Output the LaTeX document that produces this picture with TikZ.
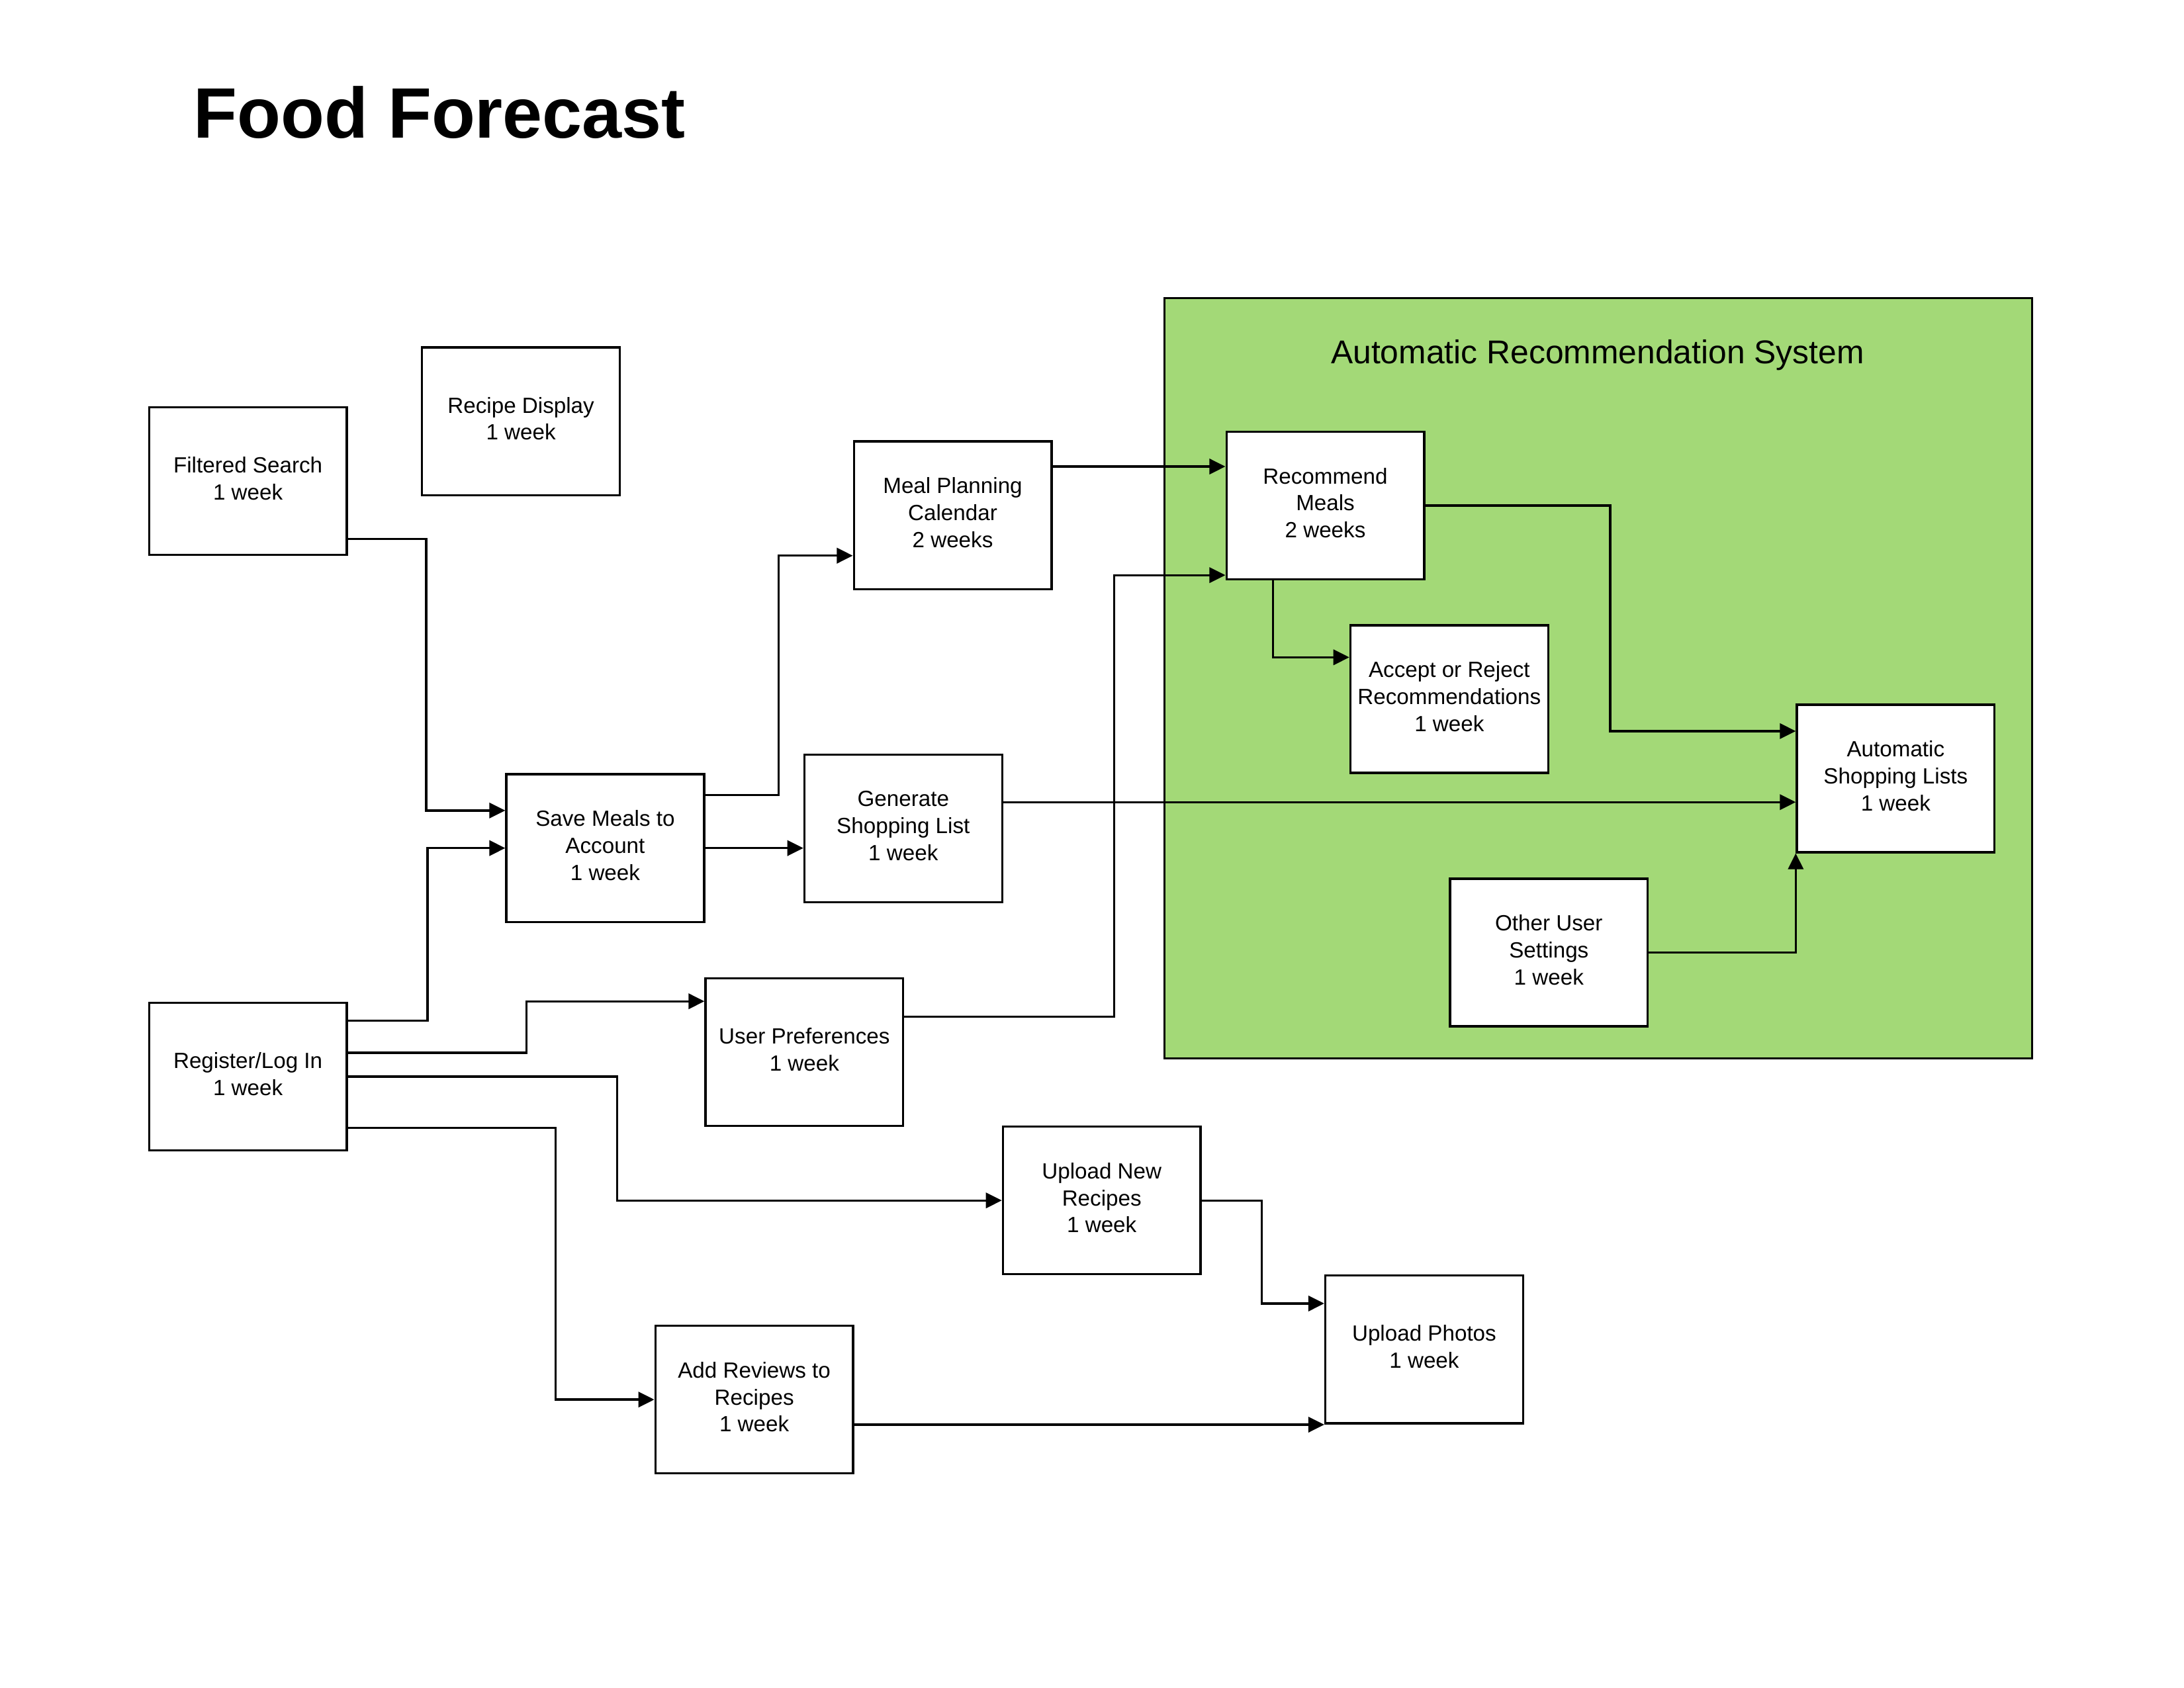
\documentclass[tikz,border=0pt]{standalone}
\usepackage{fontspec}
\setmainfont{Liberation Sans}
\usetikzlibrary{arrows.meta}
\definecolor{grn}{RGB}{163,217,119}
\begin{document}
\begin{tikzpicture}[x=0.017819cm,y=-0.017819cm,
  box/.style={draw=black,fill=white,line width=0.8pt,minimum width=2.53cm,minimum height=1.889cm,align=center,inner sep=1pt,text depth=2pt,font=\fontsize{8}{9.8}\selectfont},
  arr/.style={line width=0.8pt,-{Triangle[length=5.8pt,width=5.6pt]}}]
\useasboundingbox[fill=white] (0,0) rectangle (1568,1212);
\node[anchor=base west,font=\fontsize{26}{30}\selectfont\bfseries] (title) at (132,99) {Food Forecast};
\draw[line width=0.8pt,fill=grn] (836,214) rectangle (1459,760);
\node[font=\fontsize{12}{14}\selectfont,anchor=base] (gtitle) at (1147,261) {Automatic Recommendation System};

\node[box] (FS) at (178,345.5) {Filtered Search\\1 week};
\node[box] (RD) at (374,302.5) {Recipe Display\\1 week};
\node[box] (MP) at (684,370) {Meal Planning\\Calendar\\2 weeks};
\node[box] (SM) at (434.5,609) {Save Meals to\\Account\\1 week};
\node[box] (GS) at (648.5,595) {Generate\\Shopping List\\1 week};
\node[box] (RL) at (178,773) {Register/Log In\\1 week};
\node[box] (UP) at (577.5,755.5) {User Preferences\\1 week};
\node[box] (UN) at (791,862) {Upload New\\Recipes\\1 week};
\node[box] (UPh) at (1022.5,969) {Upload Photos\\1 week};
\node[box] (AR) at (541.5,1005) {Add Reviews to\\Recipes\\1 week};
\node[box] (RM) at (951.5,363) {Recommend\\Meals\\2 weeks};
\node[box] (AC) at (1040.5,502) {Accept or Reject\\Recommendations\\1 week};
\node[box] (AS) at (1361,559) {Automatic\\Shopping Lists\\1 week};
\node[box] (OU) at (1112,684) {Other User\\Settings\\1 week};

\draw[arr] (FS.east |- 0,387) -- (306,387) |- (SM.west |- 0,582);
\draw[arr] (RL.east |- 0,733) -- (307,733) |- (SM.west);
\draw[arr] (SM.east |- 0,571) -- (559,571) |- (MP.west |- 0,399);
\draw[arr] (SM.east) -- (GS.west |- SM.east);
\draw[arr] (MP.east |- 0,335) -- (RM.west |- 0,335);
\draw[arr] (UP.east |- 0,730) -- (800,730) |- (RM.west |- 0,413);
\draw[arr] (RM.south -| 914,0) |- (AC.west |- 0,472);
\draw[arr] (RM.east) -- (1156,363) |- (AS.west |- 0,525);
\draw[arr] (GS.east |- 0,576) -- (AS.west |- 0,576);
\draw[arr] (OU.east) -| (AS.south west);
\draw[arr] (RL.east |- 0,756) -- (378,756) |- (UP.west |- 0,719);
\draw[arr] (RL.east) -- (443,773) |- (UN.west);
\draw[arr] (RL.east |- 0,810) -- (399,810) |- (AR.west);
\draw[arr] (UN.east) -- (906,862) |- (UPh.west |- 0,936);
\draw[arr] (AR.east |- 0,1023) -- (UPh.west |- 0,1023);
\end{tikzpicture}
\end{document}
